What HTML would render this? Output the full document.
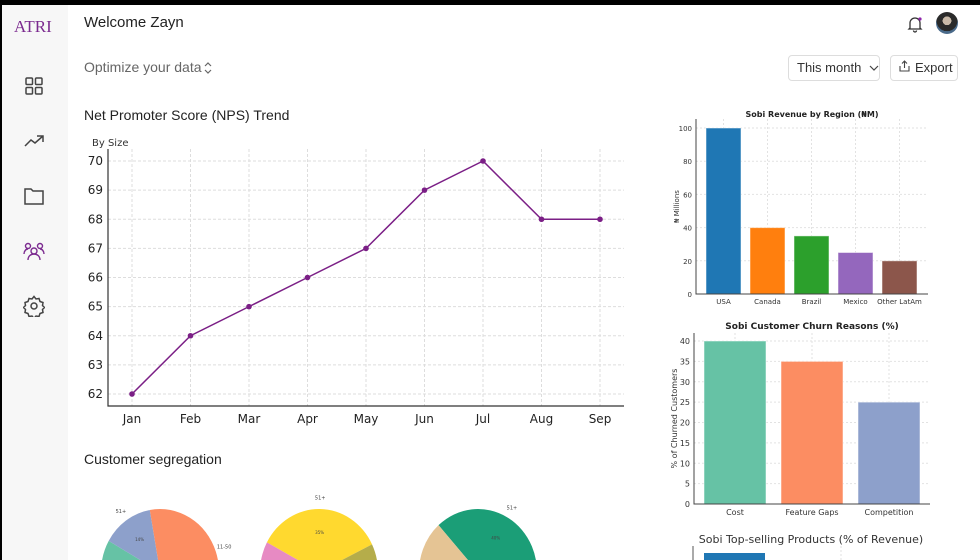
<!DOCTYPE html>
<html><head><meta charset="utf-8">
<style>
*{box-sizing:border-box;margin:0;padding:0}
html,body{width:980px;height:560px;overflow:hidden}
body{background:#fff;font-family:"Liberation Sans","DejaVu Sans",sans-serif;position:relative}
.topbar{position:absolute;left:0;top:0;width:980px;height:5px;background:#000}
.leftbar{position:absolute;left:0;top:0;width:2px;height:560px;background:#000}
.side{position:absolute;left:2px;top:5px;width:66px;height:555px;background:#f7f7f7}
.logo{position:absolute;left:14px;top:17px;font-family:"Liberation Serif",serif;color:#7b2a8f;font-size:17px}
.nav{position:absolute;left:23px;width:22px;height:22px}
.txt{position:absolute;color:#222;white-space:nowrap}
.btn{position:absolute;border:1px solid #ddd;border-radius:4px;font-size:13px;color:#333;padding:0 8px;line-height:24px;height:26px;white-space:nowrap;overflow:hidden}
svg text{font-family:"DejaVu Sans",sans-serif}
</style></head><body>
<div class="topbar"></div>
<div class="leftbar"></div>
<div class="side"></div>
<div class="logo">ATRI</div>
<svg class="nav" style="top:75px" viewBox="0 0 22 22" fill="none" stroke="#444" stroke-width="1.5"><rect x="3" y="3" width="6.5" height="6.5" rx="1"/><rect x="12.5" y="3" width="6.5" height="6.5" rx="1"/><rect x="3" y="12.5" width="6.5" height="6.5" rx="1"/><rect x="12.5" y="12.5" width="6.5" height="6.5" rx="1"/></svg>
<svg class="nav" style="top:130px" viewBox="0 0 22 22" fill="none" stroke="#444" stroke-width="1.5"><path d="M2 16l6-6 4 3 8-7M14 6h6v6"/></svg>
<svg class="nav" style="top:185px" viewBox="0 0 22 22" fill="none" stroke="#444" stroke-width="1.5"><path d="M2 4h6l2 2h10v13H2z"/></svg>
<svg class="nav" style="top:240px" viewBox="0 0 22 22" fill="none" stroke="#7b2a8f" stroke-width="1.4"><circle cx="11" cy="11" r="3"/><circle cx="5" cy="6" r="2.5"/><circle cx="17" cy="6" r="2.5"/><path d="M5 20c0-4 3-6 6-6s6 2 6 6M1 14c0-3 2-5 4-5M21 14c0-3-2-5-4-5"/></svg>
<svg class="nav" style="top:295px" viewBox="0 0 22 22" fill="none" stroke="#444" stroke-width="1.5"><circle cx="11" cy="11" r="3"/><path d="M11 1.5l2 2.5 3-.5 1 3 3 1-.5 3 2 2-2 2 .5 3-3 1-1 3-3-.5-2 2.5-2-2.5-3 .5-1-3-3-1 .5-3-2-2 2-2-.5-3 3-1 1-3 3 .5z"/></svg>

<div class="txt" style="left:84px;top:59px;font-size:14px;color:#666">Optimize your data</div>
<div class="txt" style="left:84px;top:14px;font-size:15px">Welcome Zayn</div>
<svg style="position:absolute;left:203px;top:60px" width="10" height="16" viewBox="0 0 10 16" fill="none" stroke="#666" stroke-width="1.2"><path d="M2 6l3-3 3 3M2 10l3 3 3-3"/></svg>
<svg style="position:absolute;left:906px;top:15px" width="18" height="18" viewBox="0 0 18 18" fill="none" stroke="#333" stroke-width="1.3"><path d="M4 13V8a5 5 0 0110 0v5l1 1H3z M7.5 15.5a1.5 1.5 0 003 0"/><circle cx="14" cy="4" r="1.6" fill="#8e24aa" stroke="none"/></svg>
<div style="position:absolute;left:936px;top:12px;width:22px;height:22px;border-radius:50%;background:radial-gradient(circle at 50% 40%,#c9b9a8 0 25%,#2a2a2a 26% 60%,#4a6a8a 61%)"></div>
<div class="btn" style="left:788px;top:55px;width:92px">This month <svg width="10" height="8" viewBox="0 0 10 8" fill="none" stroke="#444" stroke-width="1.2" style="margin-left:4px"><path d="M1 2l4 4 4-4"/></svg></div>
<div class="btn" style="left:890px;top:55px;width:68px"><svg width="11" height="12" viewBox="0 0 11 12" fill="none" stroke="#444" stroke-width="1.1" style="margin-right:5px"><path d="M5.5 8V1M3 3.5l2.5-2.5 2.5 2.5M1 6v5h9V6"/></svg>Export</div>

<div class="txt" style="left:84px;top:107px;font-size:14px">Net Promoter Score (NPS) Trend</div>
<div class="txt" style="left:84px;top:451px;font-size:14px">Customer segregation</div>

<svg id="nps" style="position:absolute;left:0;top:0" width="980" height="560"></svg>

<script>
const npsMonths=["Jan","Feb","Mar","Apr","May","Jun","Jul","Aug","Sep"];
const npsValues=[62,64,65,66,67,69,70,68,68];
const npsTicks=[62,63,64,65,66,67,68,69,70];
const revRegions=["USA","Canada","Brazil","Mexico","Other LatAm"];
const revValues=[100,40,35,25,20];
const revTicks=[0,20,40,60,80,100];
const churnReasons=["Cost","Feature Gaps","Competition"];
const churnValues=[40,35,25];
const churnTicks=[0,5,10,15,20,25,30,35,40];
const pie1Values=[45,41,14];
const pie1Labels=["11-50","","51+"];
const pie2Values=[35,15,50];
const pie2Labels=["51+","",""];
const pie3Values=[40,45,15];
const pie3Labels=["51+","",""];

const NS="http://www.w3.org/2000/svg";
const svg=document.getElementById('nps');
function mk(tag,attrs,parent,text){const e=document.createElementNS(NS,tag);for(const k in attrs)e.setAttribute(k,attrs[k]);if(text!==undefined)e.textContent=text;(parent||svg).appendChild(e);return e;}

(function(){
  const x0=108,x1=624,yTop=149,yBot=406;
  const xs=i=>132+i*(600-132)/(npsMonths.length-1);
  const ys=v=>394-(v-62)*(394-161)/8;
  const t=mk('text',{x:92,y:146,'font-size':10,fill:'#333'},svg,'By Size');
  
  npsTicks.forEach(v=>{
    const g=mk('line',{x1:x0,x2:x1,y1:ys(v),y2:ys(v),stroke:'#ddd','stroke-dasharray':'3,2'});
    
    const l=mk('text',{x:x0-5,y:ys(v)+4,'font-size':12,'text-anchor':'end',fill:'#222'},svg,v);
    
  });
  npsMonths.forEach((m,i)=>{
    const g=mk('line',{x1:xs(i),x2:xs(i),y1:yTop,y2:yBot,stroke:'#ddd','stroke-dasharray':'3,2'});
    
    const l=mk('text',{x:xs(i),y:yBot+10+7,'font-size':12,'text-anchor':'middle',fill:'#222'},svg,m);
    
  });
  const ax=mk('path',{d:`M${x0} ${yTop}V${yBot}H${x1}`,fill:'none',stroke:'#333','stroke-width':1.2});
  
  const ln=mk('polyline',{points:npsValues.map((v,i)=>xs(i)+','+ys(v)).join(' '),fill:'none',stroke:'#7b1f86','stroke-width':1.5});
  
  npsValues.forEach((v,i)=>{const c=mk('circle',{cx:xs(i),cy:ys(v),r:2.8,fill:'#7b1f86'});
    });
})();

function barChart(o){
  const {cats,vals,ticks,x0,x1,yTop,yBot,max,colors,barW,title,titleY,ylabel,ylabelX,name,fs}=o;
  const ys=v=>yBot-v*(yBot-o.yMaxPx)/max;
  const xc=i=>o.firstC+i*o.step;
  const t=mk('text',{x:(x0+x1)/2,y:titleY,'font-size':fs+1,'font-weight':'bold','text-anchor':'middle',fill:'#222'},svg,title);
  
  ticks.forEach(v=>{
    const g=mk('line',{x1:x0,x2:x1,y1:ys(v),y2:ys(v),stroke:'#e2e2e2','stroke-dasharray':'2,2'});
    
    const l=mk('text',{x:x0-4,y:ys(v)+3,'font-size':fs,'text-anchor':'end',fill:'#333'},svg,v);
    
  });
  cats.forEach((c,i)=>{
    const g=mk('line',{x1:xc(i),x2:xc(i),y1:yTop,y2:yBot,stroke:'#e2e2e2','stroke-dasharray':'2,2'});
    
  });
  vals.forEach((v,i)=>{
    const r=mk('rect',{x:xc(i)-barW/2,y:ys(v),width:barW,height:yBot-ys(v),fill:colors[i],stroke:'rgba(255,255,255,0.5)'});
    
    const l=mk('text',{x:xc(i),y:yBot+fs+3,'font-size':fs,'text-anchor':'middle',fill:'#333'},svg,cats[i]);
    
  });
  const ax=mk('path',{d:`M${x0} ${yTop}V${yBot}H${x1}`,fill:'none',stroke:'#444','stroke-width':1});
  
  const yl=mk('text',{x:ylabelX,y:(yTop+yBot)/2,'font-size':fs,'text-anchor':'middle',fill:'#333',transform:`rotate(-90 ${ylabelX} ${(yTop+yBot)/2})`},svg,ylabel);
  
}
barChart({cats:revRegions,vals:revValues,ticks:revTicks,x0:696,x1:928,yTop:119,yBot:294,yMaxPx:128,max:100,
  colors:['#1f77b4','#ff7f0e','#2ca02c','#9467bd','#8c564b'],barW:35,firstC:723.5,step:44,
  title:'Sobi Revenue by Region (₦M)',titleY:117,ylabel:'₦ Millions',ylabelX:679,name:'revenue',fs:7});
barChart({cats:churnReasons,vals:churnValues,ticks:churnTicks,x0:694,x1:930,yTop:333,yBot:504,yMaxPx:341,max:40,
  colors:['#66c2a5','#fc8d62','#8da0cb'],barW:62,firstC:735,step:77,
  title:'Sobi Customer Churn Reasons (%)',titleY:329,ylabel:'% of Churned Customers',ylabelX:677,name:'churn',fs:8});
(function(){
  const t=mk('text',{x:811,y:543,'font-size':11,'text-anchor':'middle',fill:'#333'},svg,'Sobi Top-selling Products (% of Revenue)');
  
  const a=mk('line',{x1:693,x2:693,y1:546,y2:560,stroke:'#555'});
  
  const g=mk('line',{x1:841,x2:841,y1:546,y2:560,stroke:'#e2e2e2','stroke-dasharray':'2,2'});
  
  const b=mk('rect',{x:704,y:553,width:61,height:7,fill:'#1f77b4'});
  
})();

function pie(vals,labels,colors,cx,cy,rx,ry,startDeg,name){
  const tot=vals.reduce((a,b)=>a+b,0);let a=startDeg;
  const P=(d,k)=>{const r=(d-90)*Math.PI/180;return [cx+rx*k*Math.cos(r),cy+ry*k*Math.sin(r)];};
  vals.forEach((v,i)=>{
    const sw=v/tot*360,a2=a+sw;
    const [x1,y1]=P(a,1),[x2,y2]=P(a2,1);
    const s=mk('path',{d:`M${cx} ${cy}L${x1} ${y1}A${rx} ${ry} 0 ${sw>180?1:0} 1 ${x2} ${y2}Z`,fill:colors[i]});
    
    const mid=a+sw/2;const [lx,ly]=P(mid,1.15);
    if(labels[i]&&ly<556){const l=mk('text',{x:lx,y:ly,'font-size':5,'text-anchor':'middle',fill:'#444'},svg,labels[i]);
      }
    const [px,py]=P(mid,0.6);
    if(py<556){const pc=mk('text',{x:px,y:py,'font-size':4,'text-anchor':'middle',fill:'#444'},svg,Math.round(v/tot*100)+'%');
      }
    a=a2;
  });
}
pie(pie1Values,pie1Labels,['#fc8d62','#66c2a5','#8da0cb'],160,572,59,63,-10,'pie-size');
pie(pie2Values,pie2Labels,['#ffd92f','#b5ad4a','#e78ac3'],319,572,59,63,-62,'pie-region');
pie(pie3Values,pie3Labels,['#1b9e77','#bbbbbb','#e5c494'],478,572,59,63,-42,'pie-plan');
</script>
</body></html>
